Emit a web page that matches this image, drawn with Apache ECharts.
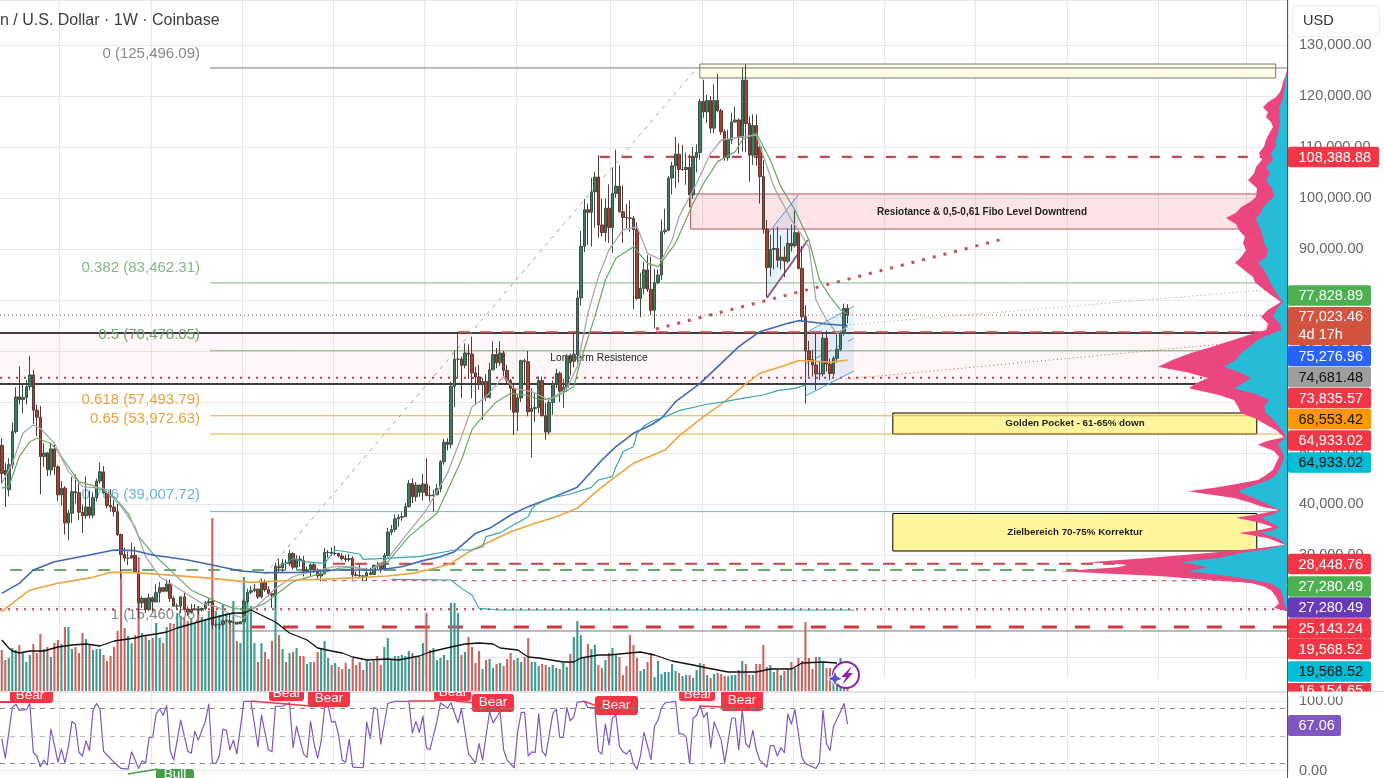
<!DOCTYPE html>
<html><head><meta charset="utf-8">
<style>html,body{margin:0;padding:0;background:#fff}#c{width:1384px;height:778px}</style>
<script src="https://cdn.jsdelivr.net/npm/echarts@6/dist/echarts.min.js"></script>
</head><body><div id="c"></div>
<script>
// weekly candles in thousands of USD: open, close, low, high
const weeklyOHLC=[
[51.5,46.0,44.0,52.9],[46.6,45.7,39.4,48.0],[42.8,47.7,41.5,49.0],[47.7,54.2,46.9,56.0],[54.2,61.0,53.8,62.9],[61.0,60.5,59.5,67.0],[60.5,60.9,57.8,63.7],[60.9,63.0,59.5,64.3],[63.0,65.3,62.3,69.0],[65.3,58.4,55.7,66.3],
[58.4,57.0,53.3,59.5],[57.0,49.3,41.9,59.2],[49.3,50.0,47.3,51.9],[50.0,46.7,45.5,50.2],[46.7,50.8,45.6,51.9],[50.8,47.3,45.7,52.1],[47.3,41.8,40.6,47.6],[41.8,43.1,39.7,44.5],[43.1,36.3,34.0,43.5],[36.3,38.2,32.9,38.9],
[38.2,42.4,36.3,45.3],[42.4,42.2,40.1,45.8],[42.2,38.4,36.8,44.7],[38.4,37.7,34.3,39.9],[37.7,39.4,37.1,45.4],[39.4,37.8,37.2,42.6],[37.8,41.3,37.2,42.3],[41.3,44.5,40.5,45.0],[44.5,46.3,44.0,48.2],[46.3,42.2,42.0,47.4],
[42.2,39.7,39.2,42.4],[39.7,39.4,38.5,42.9],[39.4,38.5,37.6,40.8],[38.5,34.0,33.7,40.0],[34.0,30.1,25.4,34.2],[30.1,29.4,28.7,31.4],[29.4,29.4,28.0,30.7],[29.4,29.9,29.3,32.4],[29.9,26.6,26.5,31.7],[26.6,20.6,17.6,26.9],
[20.6,21.5,19.6,21.9],[21.5,19.3,18.6,21.6],[19.3,21.6,19.0,22.4],[21.6,20.8,18.9,21.9],[20.8,22.6,20.7,24.3],[22.6,23.6,20.7,24.7],[23.6,22.9,22.7,23.7],[22.9,24.3,22.7,25.2],[24.3,21.5,20.8,25.2],[21.5,20.0,19.8,21.9],
[20.0,20.0,19.5,20.5],[20.0,21.8,18.6,21.8],[21.8,19.4,19.4,22.8],[19.4,18.8,18.1,19.9],[18.8,19.3,18.5,20.4],[19.3,19.4,19.1,20.4],[19.4,19.2,18.2,19.9],[19.2,19.5,18.9,19.7],[19.5,20.6,19.2,21.0],[20.6,20.9,20.0,21.4],
[20.9,16.3,15.5,21.4],[16.3,16.3,15.8,17.0],[16.3,16.4,15.5,16.8],[16.4,17.1,16.0,17.3],[17.1,17.1,16.7,17.4],[17.1,16.8,16.3,18.4],[16.8,16.8,16.4,17.0],[16.8,16.5,16.3,16.9],[16.5,16.9,16.5,17.0],[16.9,20.9,16.9,21.3],
[20.9,22.7,20.4,23.4],[22.7,23.0,22.3,23.9],[23.0,23.3,22.7,24.3],[23.3,21.8,21.4,23.4],[21.8,24.6,21.5,25.3],[24.6,23.2,22.8,25.2],[23.2,22.4,21.9,23.9],[22.4,22.1,19.6,22.6],[22.1,27.7,19.6,28.5],[27.7,27.5,26.6,29.2],
[27.5,28.4,26.5,29.2],[28.4,28.3,27.2,29.1],[28.3,30.3,27.8,31.0],[30.3,27.6,27.1,30.5],[27.6,29.2,27.2,30.0],[29.2,28.9,27.7,29.9],[28.9,26.9,25.8,29.8],[26.9,27.1,26.4,27.7],[27.1,28.1,25.9,28.4],[28.1,27.1,26.5,28.4],
[27.1,25.9,25.4,27.4],[25.9,26.3,24.8,26.8],[26.3,30.5,26.2,31.4],[30.5,30.5,29.5,31.0],[30.5,30.3,29.9,31.5],[30.3,30.3,29.9,31.8],[30.3,29.8,29.5,30.4],[29.8,29.3,28.9,30.3],[29.3,29.1,28.6,30.0],[29.1,29.3,28.7,30.2],
[29.3,26.1,25.2,29.7],[26.1,26.0,25.8,26.8],[26.0,25.9,25.4,28.1],[25.9,25.8,25.0,26.1],[25.8,26.5,24.9,27.5],[26.5,26.2,26.0,27.5],[26.2,28.0,26.1,28.1],[28.0,27.9,27.2,28.6],[27.9,27.1,26.5,28.0],[27.1,29.9,27.1,30.4],
[29.9,34.5,29.7,35.3],[34.5,35.0,33.9,35.9],[35.0,37.1,34.5,38.0],[37.1,37.4,35.5,38.0],[37.4,37.5,36.7,38.4],[37.5,39.5,37.5,40.2],[39.5,44.0,39.3,44.7],[44.0,41.4,40.2,45.0],[41.4,43.7,40.5,44.3],[43.7,42.3,41.4,43.8],
[42.3,43.9,40.7,45.9],[43.9,41.7,41.5,49.0],[41.7,41.6,40.5,43.6],[41.6,41.8,38.5,42.8],[41.8,43.0,41.8,43.9],[43.0,48.3,42.3,48.6],[48.3,52.1,47.7,52.8],[52.1,51.7,50.5,52.9],[51.7,63.1,50.9,64.0],[63.1,68.4,59.0,70.1],
[68.4,68.4,64.6,73.8],[68.4,67.2,60.8,68.9],[67.2,69.6,66.6,71.5],[69.6,69.4,64.5,71.3],[69.4,65.7,60.7,72.8],[65.7,64.9,59.6,66.9],[64.9,63.4,62.4,67.2],[63.4,64.0,56.5,64.7],[64.0,60.9,60.2,65.5],[60.9,66.3,60.7,67.7],
[66.3,69.3,66.3,71.9],[69.3,67.7,66.6,70.6],[67.7,69.6,67.1,71.9],[69.6,66.2,65.0,70.0],[66.2,64.2,63.4,67.3],[64.2,62.7,58.4,64.5],[62.7,58.0,53.5,63.8],[58.0,60.8,54.3,61.4],[60.8,68.1,60.0,68.3],[68.1,67.9,63.4,68.5],
[67.9,58.1,57.2,70.0],[58.1,58.7,49.1,62.7],[58.7,58.9,56.1,61.8],[58.9,64.2,57.8,65.0],[64.2,57.3,57.2,65.0],[57.3,54.1,52.6,59.8],[54.1,59.9,53.6,60.7],[59.9,63.6,57.5,64.2],[63.6,65.6,62.7,66.5],[65.6,62.1,60.0,66.0],
[62.1,62.9,58.9,64.5],[62.9,69.0,62.0,69.4],[69.0,68.0,65.2,69.5],[68.0,69.3,66.8,73.6],[69.3,80.4,66.8,81.9],[80.4,90.5,78.9,93.5],[90.5,97.7,89.4,99.8],[97.7,97.2,90.8,98.9],[97.2,101.2,90.5,104.0],[101.2,104.1,94.2,105.1],
[104.1,94.7,92.2,108.4],[94.7,93.2,92.4,99.9],[93.2,98.0,91.5,99.9],[98.0,94.2,91.2,102.7],[94.2,100.9,89.3,106.0],[100.9,102.3,100.0,109.5],[102.3,97.3,97.2,106.4],[97.3,96.2,91.2,102.5],[96.2,96.1,94.1,98.8],[96.1,96.0,93.4,99.5],
[96.0,93.8,78.2,96.5],[93.8,80.3,80.0,95.2],[80.3,82.3,76.6,85.3],[82.3,85.9,81.1,87.5],[85.9,82.1,81.6,88.8],[82.1,78.0,77.0,88.5],[78.0,83.4,74.4,86.1],[83.4,84.9,83.1,86.0],[84.9,93.4,83.9,95.8],[93.4,93.7,92.9,97.9],
[93.7,103.9,93.5,104.3],[103.9,106.3,100.7,107.1],[106.3,108.6,102.0,112.0],[108.6,105.6,103.0,110.7],[105.6,105.6,105.3,110.4],[105.6,106.0,102.6,108.9],[106.0,100.6,98.2,108.5],[100.6,108.0,99.8,110.0],[108.0,108.9,105.0,110.5],[108.9,118.9,107.5,119.5],
[118.9,116.9,115.7,123.2],[116.9,119.1,114.7,120.2],[119.1,113.7,112.7,120.0],[113.7,119.1,112.7,122.3],[119.1,117.1,116.8,124.3],[117.1,113.0,112.4,117.5],[113.0,107.9,107.3,113.5],[107.9,111.4,107.3,113.4],[111.4,114.9,110.6,116.7],[114.9,115.3,114.8,117.9],
[115.3,111.9,108.7,115.6],[111.9,123.1,109.1,125.5],[123.1,114.6,109.0,126.2],[114.6,108.4,103.2,116.0],[108.4,114.2,106.5,116.4],[114.2,108.4,106.3,116.4],[110.0,104.2,98.9,110.5],[104.2,93.9,93.0,107.5],[93.9,86.4,80.6,95.7],[86.4,89.9,84.6,92.8],
[89.9,90.1,86.0,94.0],[90.1,87.8,86.4,94.4],[87.8,88.4,86.0,92.6],[88.4,87.6,84.5,90.5],[87.6,91.1,87.2,94.0],[91.1,90.6,89.5,94.8],[90.65,93.2,90.3,97.5],[93.2,86.2,86.0,93.7],[86.2,76.7,75.8,90.6],[76.7,70.0,59.7,79.0],
[70.0,68.2,65.0,72.0],[68.3,67.25,65.0,70.2],[67.25,65.5,62.35,73.45],[65.5,65.6,64.3,68.0],[65.5,72.5,65.0,73.45],[72.5,67.45,66.0,74.0],[67.45,65.6,64.3,68.5],[65.6,68.56,65.0,69.0],[68.56,70.33,67.7,73.45],[70.33,73.45,70.0,74.0],
[73.45,78.36,73.0,79.3],[78.36,77.02,75.4,79.2]];

const weeklyVolume=[41,31,33,43,41,46,38,29,36,47,38,57,42,44,34,48,51,47,64,64,42,44,38,58,52,46,41,42,42,36,30,35,44,60,121,63,55,48,56,134,
58,56,51,53,68,53,48,64,68,67,78,75,74,70,72,68,85,74,72,80,173,80,76,86,78,70,90,50,48,114,90,85,48,29,48,39,32,50,126,56,
42,29,38,39,43,35,35,27,29,29,39,42,50,33,26,28,24,22,28,22,33,26,29,21,31,29,30,35,26,44,53,31,35,35,36,35,40,38,34,34,
48,78,41,43,31,33,36,31,88,88,78,36,39,54,44,28,40,22,31,32,23,27,28,25,32,38,31,33,29,34,53,29,29,25,27,26,24,26,23,22,
28,24,37,54,70,56,33,47,42,46,26,23,31,38,43,36,34,16,25,56,46,33,20,22,29,38,14,30,17,19,19,27,20,18,15,16,16,13,21,28,
27,16,13,17,18,17,15,15,16,16,21,30,27,16,16,27,27,46,24,26,19,21,16,20,21,29,23,33,30,69,33,22,34,34,29,23,23,11,14,33,10,6];

// moving averages as [week index, price] readings
const maFast=[[0,43100],[2,43400],[5,49300],[8,52200],[10,52900],[14,51900],[16,50300],[19,47300],[22,44400],[27,43400],[32,41440],[36,38170],[39,33600],[43,30300],[49,26400],[54,23100],[60,21200],[66,19540],[70,19220],[75,20520],[78,22150],[83,24770],[91,26400],[96,27400],[100,27580],[105,27060],[110,28700],[116,33600],[124,38170],[131,48630],[134,54640],[137,57120],[141,60070],[145,61700],[149,61370],[154,60390],[158,61040],[163,63000],[165,68230],[169,76730],[172,83920],[175,88170],[180,90460],[184,87190],[187,86540],[192,91110],[197,98950],[200,102880],[204,107130],[209,109080],[211,111370],[215,112680],[219,107450],[222,102220],[226,97650],[230,91760],[233,83920],[236,80650],[239,78040],[241,77250]];
const maSlow=[[0,44050],[3,47950],[6,53850],[9,55490],[11,54840],[15,51900],[19,46340],[23,43400],[29,43070],[34,39480],[38,35550],[41,29670],[45,25750],[51,23140],[57,20520],[61,19870],[66,18240],[69,17580],[72,19540],[78,23460],[83,25750],[88,26730],[95,27710],[100,27710],[105,27060],[110,29350],[116,34570],[121,38820],[127,46010],[131,53200],[134,59080],[138,61040],[143,64970],[146,62680],[151,62030],[156,60390],[161,62680],[164,66930],[167,77390],[170,84570],[173,89800],[177,93730],[181,94380],[184,89150],[188,87840],[191,91760],[193,96340],[198,102880],[202,108760],[205,111370],[211,112030],[215,112350],[220,102220],[225,95690],[230,90460],[232,79990],[235,76080],[238,73460],[241,74770]];
const maBlue=[[0,22480],[5,24440],[9,27060],[15,28690],[25,30000],[32,30980],[38,30850],[43,30000],[53,29020],[60,28040],[68,26860],[75,26530],[85,26600],[95,27060],[107,27060],[114,27710],[120,28900],[125,29670],[129,30650],[135,34250],[139,35230],[145,37840],[150,39480],[157,41300],[164,43270],[171,48630],[175,51240],[180,53860],[185,55490],[188,56800],[192,60060],[199,63660],[205,67580],[210,70850],[216,73790],[224,75420],[227,75950],[230,75750],[235,75290],[241,74960]];
const maOrange=[[0,18890],[3,20520],[8,23140],[16,24450],[26,25620],[31,26600],[38,26540],[45,26210],[60,25420],[71,24640],[85,25100],[97,25420],[110,25880],[117,26400],[125,27710],[128,28360],[134,30980],[139,32610],[145,34570],[152,36210],[158,37520],[164,39150],[170,42750],[173,44380],[180,47970],[189,50590],[193,53350],[200,57120],[206,60060],[211,63000],[216,65620],[222,66930],[227,68100],[230,68100],[236,67780],[241,68230]];
const maCyan=[[79,28040],[81,28360],[83,29340],[86,28690],[92,28360],[95,30980],[102,30190],[103,29150],[109,29340],[119,29670],[129,30980],[134,30980],[137,31630],[138,33590],[142,34380],[145,35550],[150,37520],[151,38950],[152,39800],[156,41110],[162,41960],[168,43270],[170,44700],[174,45360],[175,47320],[176,48630],[177,50260],[180,51240],[181,53860],[183,55300],[185,56140],[189,57120],[193,58300],[200,59410],[206,60060],[211,60720],[217,61370],[221,62220],[226,62680],[229,63330]];
const stepLower=[[111,25230],[128,25100],[131,23460],[134,22150],[136,19540],[142,19210],[243,19210]];
const volumeMA=[[0,51],[2,43],[3,40],[5,38],[8,40],[12,40],[16,44],[20,46],[24,47],[28,45],[32,50],[34,51],[38,53],[40,55],[44,57],[47,59],[50,63],[55,68],[60,73],[66,78],[69,78],[71,81],[78,69],[82,58],[87,51],[90,43],[94,40],[97,38],[100,34],[104,31],[110,32],[113,31],[119,35],[122,39],[128,44],[132,47],[136,48],[140,47],[142,43],[147,41],[150,34],[153,33],[160,29],[163,29],[165,33],[170,36],[173,36],[179,38],[182,39],[186,36],[191,30],[197,26],[201,23],[207,19],[215,19],[219,22],[225,22],[228,28],[234,29],[238,28]];
const stochRSI=[[0,46],[1,18],[3,91],[4,96],[5,87],[7,88],[8,97],[9,26],[10,21],[11,5.5],[12,15],[13,8],[14,60],[15,37],[16,12],[17,31],[18,11],[19,35],[20,71],[21,67],[22,26],[23,21],[24,43],[25,29],[26,87],[27,97],[28,89],[29,28],[31,17],[32,12],[34,3],[36,2],[37,27],[39,3],[40,14],[41,11],[42,48],[43,48],[44,82],[45,89],[46,80],[47,94],[48,28],[49,15],[51,73],[53,28],[54,25],[55,57],[56,44],[58,71],[59,96],[60,11],[61,10],[62,21],[63,60],[64,58],[65,30],[66,44],[67,24],[69,100],[71,100],[73,34],[74,80],[76,30],[77,27],[78,93],[80,93],[82,98],[83,33],[84,64],[86,24],[87,19],[88,71],[89,39],[90,18],[91,42],[92,91],[93,93],[94,70],[95,71],[96,51],[97,15],[98,12],[99,45],[100,5],[103,4],[104,70],[105,46],[106,91],[107,89],[108,38],[110,97],[112,100],[116,100],[117,54],[118,71],[119,55],[120,79],[121,33],[122,30],[124,71],[125,98],[127,90],[128,98],[130,69],[131,89],[133,24],[135,11],[136,39],[137,15],[139,85],[140,69],[142,85],[143,30],[144,15],[146,4],[147,55],[148,84],[149,84],[150,21],[151,27],[152,26],[153,82],[154,28],[155,21],[157,82],[158,89],[159,48],[160,48],[161,91],[162,72],[163,78],[164,99],[166,100],[167,91],[169,91],[170,28],[171,24],[172,67],[173,37],[174,76],[175,80],[176,35],[177,27],[178,24],[179,30],[180,10],[181,2],[182,21],[183,55],[185,16],[186,64],[187,73],[188,91],[189,98],[192,100],[193,53],[194,53],[195,49],[196,10],[197,76],[198,80],[199,94],[200,77],[201,84],[202,33],[203,70],[205,44],[206,11],[208,76],[209,76],[210,30],[211,87],[212,39],[213,33],[214,58],[215,30],[216,15],[218,5],[219,36],[220,36],[221,21],[222,33],[223,26],[224,82],[225,67],[226,88],[228,19],[229,10],[232,3],[233,12],[234,87],[235,39],[236,29],[237,64],[239,85],[240,97],[241,67.06]];

// visible-range volume profile: price level, up volume, total volume
const profilePrice=[125100,124400,123700,122800,121800,120800,119800,118800,117800,116800,115900,114900,113900,112600,111400,110100,108800,107500,106100,104800,103500,101900,100200,99200,98200,97100,96100,94900,93700,92400,91200,89800,88400,87300,85900,84500,83500,82500,81000,79600,78100,76700,75400,74100,73100,72200,70900,69600,68300,66900,65800,64700,63700,62700,61400,60400,59100,57800,56800,55900,54500,53100,52300,51600,50400,49200,48000,46700,45700,44700,43300,42500,41200,40300,39400,38800,38000,37300,36400,35500,34900,34300,33300,32000,31200,30400,29400,28600,28100,27600,26800,25900,25200,24500,23800,23100,21800,20600,19600,19000];
const profileUp=[1,1,2,3,3,4,5,6,9,8,9,8,9,10,12,12,17,15,22,18,22,16,14,20,25,27,32,30,27,25,24,20,22,30,24,20,18,15,10,5,12,15,8,7,20,30,38,47,52,64,48,37,45,54,30,19,24,22,16,12,6,2,7,10,6,4,6,9,12,19,40,50,34,24,15,7,15,27,18,9,14,27,10,2,20,47,70,107,92,80,100,60,38,19,12,7,5,4,2,1];
const profileTotal=[1,2,3,5,6,8,12,20,25,20,22,17,15,19,22,24,29,26,32,34,40,31,32,38,47,52,62,52,49,43,45,42,47,53,44,35,33,27,17,7,20,27,20,22,40,54,75,97,115,130,100,80,92,99,70,54,50,47,33,25,12,4,22,30,14,9,12,15,22,30,70,100,54,38,25,9,30,52,30,15,28,49,20,3,35,80,140,200,160,170,228,130,85,37,24,17,12,9,14,2];

// drawing levels: bar position 0, price 0, bar position 1, price 1
const zoneLevels=[[-2,73530,361.9,63530],[198.9,126270,363,123530],[196.3,100785,362.7,93920],[253.9,57840,357.6,53725],[253.9,38135,357.6,30785]];
const zoneLook=[['rgba(242,54,69,0.045)','#000',1.3],['#fffde7','#777',1],['rgba(242,54,69,0.13)','#b5525a',1],['#fff59d','#000',1],['#fff59d','#000',1]];
const flagPolygons=[[[218,80390],[218,92750],[226.9,100590],[226.9,91760]],[[229,61180],[229,73530],[242.8,78820],[242.8,66080]]];
const segmentLevels=[[59.3,125496,366.5,125496],[59.3,83350,366.5,83350],[59.3,70050,366.5,70050],[59.3,57300,366.5,57300],[59.3,53730,366.5,53730],[59.3,38500,366.5,38500],[170.4,108050,366.5,108050],[130,73700,361.9,73700],[-0.5,64760,366.5,64760],[-0.5,19340,366.5,19340],[186.4,74300,286.4,92160],[-0.5,77023,366.5,77023],[2.4,27060,355.6,27060],[94.4,28300,366.5,28300],[91.2,24960,355.6,24960],[70.7,15880,366.5,15880],[65.3,15100,366.5,15100],[61.6,15460,198.1,125496],[240.5,75100,366.5,82350],[240.5,64510,366.5,72560],[218,92750,226.9,100590],[218,80390,229.7,91760],[229,73530,242.8,78820],[229,61180,242.8,66080],[229,67500,242.8,72500]];
const segmentLook=[['#787878',1],['#81b784',1],['#7fb27f',1],['#e3ab45',1.2],['#e3ab45',1.2],['#6fb3c4',1],['#c8444e',2.2,[10,12]],['#c8444e',2,[12,10]],['#c0394b',2,[2,6]],['#c0394b',2,[2,6]],['#c8505a',3,[3,8]],['#8d5a4d',1,[1,3]],['#6aa96f',2,[12,10]],['#c8444e',2,[12,10]],['#b5525a',1,[5,5]],['#d2383f',3,[15,18]],['#777',1],['#a5a5a5',1,[4,5]],['#7fb77f',1,[1,3]],['#c8505a',1,[1,3]],['#5b8fd9',1],['#8a5a8f',2],['#4a9fdc',1],['#4a9fdc',1],['#4a9fdc',1,[6,6]]];

const gridBars=new Set([17,43,69,95,121,147,174,200,226,252,278,304,330,355]);
const weeks=[];const t0=Date.UTC(2021,8,20);
for(let i=0;i<367;i++)weeks.push(new Date(t0+i*604800000).toISOString().slice(0,10));
const GRID='#e8e8e8',FONT='"Liberation Sans",Arial,sans-serif';
const catAxis=g=>({type:'category',gridIndex:g,data:weeks,boundaryGap:true,axisLine:{show:false},axisTick:{show:false},axisLabel:{show:false},
 splitLine:{show:true,interval:i=>gridBars.has(i),lineStyle:{color:GRID,width:1}}});
const candleData=weeklyOHLC.map(r=>r.map(v=>v*1000));
const lineS=(name,data,color,width,xi,yi,z)=>({name,type:'line',data,xAxisIndex:xi,yAxisIndex:yi,showSymbol:false,symbol:'none',animation:false,z:z||4,silent:true,lineStyle:{color,width,join:'round'}});

const option={animation:false,backgroundColor:'#fff',
 grid:[{left:0,right:96,top:0,bottom:121},{left:0,right:96,top:518,bottom:87},{left:0,right:96,top:692,bottom:2.3}],
 xAxis:[catAxis(0),catAxis(1),catAxis(2),
  {type:'value',gridIndex:0,show:false,min:-0.5,max:366.5},
  {type:'value',gridIndex:0,show:false,min:0,max:1288,inverse:true}],
 yAxis:[
  {type:'value',gridIndex:0,position:'right',min:10000,max:138823,interval:10000,axisLine:{show:false},axisTick:{show:false},splitLine:{lineStyle:{color:GRID}},
   axisLabel:{margin:11,color:'#666',fontFamily:FONT,fontSize:14.5,formatter:v=>(v<=10000||v>=138000)?'':v.toLocaleString('en-US',{minimumFractionDigits:2})}},
  {type:'value',gridIndex:1,show:false,min:0,max:173},
  {type:'value',gridIndex:2,position:'right',min:0,max:113.6,interval:100,axisLine:{show:false},axisTick:{show:false},splitLine:{lineStyle:{color:GRID}},
   axisLabel:{margin:11,color:'#666',fontFamily:FONT,fontSize:14.5,showMaxLabel:false,formatter:v=>(v===100||v===0)?v.toFixed(2):''}}],
 series:[
  {name:'zones',type:'custom',xAxisIndex:3,yAxisIndex:0,z:1,silent:true,animation:false,clip:true,encode:{x:[0,2],y:[1,3]},data:zoneLevels,
   renderItem:(p,api)=>{const a=api.coord([api.value(0),api.value(1)]),b=api.coord([api.value(2),api.value(3)]);const s=zoneLook[p.dataIndex];
    return {type:'rect',shape:{x:a[0],y:a[1],width:b[0]-a[0],height:b[1]-a[1]},style:{fill:s[0],stroke:s[1],lineWidth:s[2]}};}},
  {name:'flags',type:'custom',xAxisIndex:3,yAxisIndex:0,z:1,silent:true,animation:false,data:[[0],[1]],
   renderItem:(p,api)=>({type:'polygon',shape:{points:flagPolygons[p.dataIndex].map(q=>api.coord(q))},style:{fill:'rgba(66,150,245,0.13)',stroke:null}})},
  {name:'levels',type:'custom',xAxisIndex:3,yAxisIndex:0,z:2.2,silent:true,animation:false,clip:true,encode:{x:[0,2],y:[1,3]},data:segmentLevels,
   renderItem:(p,api)=>{const a=api.coord([api.value(0),api.value(1)]),b=api.coord([api.value(2),api.value(3)]);const s=segmentLook[p.dataIndex];
    return {type:'line',shape:{x1:a[0],y1:a[1],x2:b[0],y2:b[1]},style:{stroke:s[0],lineWidth:s[1],lineDash:s[2]||null,fill:null}};}},
  {name:'Volume',type:'bar',xAxisIndex:1,yAxisIndex:1,z:2.8,silent:true,animation:false,barWidth:2.1,
   data:weeklyVolume.map((v,i)=>({value:v,itemStyle:{color:weeklyOHLC[i][1]>=weeklyOHLC[i][0]?'#3c9a91':'#c9665f'}}))},
  {name:'BTCUSD',type:'candlestick',xAxisIndex:0,yAxisIndex:0,z:3,silent:true,animation:false,barWidth:3,data:candleData,
   itemStyle:{color:'#37805e',color0:'#ad3f2a',borderColor:'#3d4f46',borderColor0:'#5a3a34',borderWidth:1}},
  lineS('MA fast',maFast,'#64a86a',1.2,0,0),
  lineS('MA slow',maSlow,'#a8a8a8',1.3,0,0),
  lineS('MA blue',maBlue,'#3f67b8',1.6,0,0),
  lineS('MA orange',maOrange,'#e9a53f',1.6,0,0),
  lineS('MA cyan',maCyan,'#3aa3ad',1.2,0,0),
  lineS('Step lower',stepLower,'#3aa3ad',1.1,0,0),
  lineS('Volume MA',volumeMA,'#111',1.3,1,1),
  lineS('Stoch RSI',stochRSI,'#7e57c2',1.2,2,2,1.8),
  Object.assign(lineS('RSI band',[],'#888',1,2,2,1.7),{markLine:{silent:true,symbol:'none',label:{show:false},data:[
    {yAxis:90,lineStyle:{color:'#888',type:[5,5],width:1}},{yAxis:50,lineStyle:{color:'#bbb',type:[5,5],width:1}},{yAxis:10,lineStyle:{color:'#888',type:[5,5],width:1}}]}}),
  {name:'profile',type:'custom',xAxisIndex:4,yAxisIndex:0,z:5,silent:true,animation:false,data:[[0]],
   renderItem:(p,api)=>{
    const edge=v=>profilePrice.map((q,i)=>api.coord([v[i],q]));
    const base=[api.coord([0,profilePrice[profilePrice.length-1]]),api.coord([0,profilePrice[0]])];
    return {type:'group',children:[
      {type:'polygon',shape:{points:edge(profileTotal).concat(base)},style:{fill:'#ea4680'}},
      {type:'polygon',shape:{points:edge(profileUp).concat(base)},style:{fill:'#26bcd7'}}]};}}
 ],
 graphic:[]};

const G=option.graphic;
const txt=(text,x,y,fill,size,align,z,weight)=>G.push({type:'text',z:z,silent:true,style:{text,x,y,fill,font:(weight||'normal')+' '+size+'px '+FONT,textAlign:align||'left',textVerticalAlign:'middle'}});
const rect=(x,y,w,h,fill,z,r,stroke)=>G.push({type:'rect',z:z,silent:true,shape:{x,y,width:w,height:h,r:r||0},style:{fill,stroke:stroke||null}});
const seg=(x1,y1,x2,y2,stroke,w,z)=>G.push({type:'line',z:z,silent:true,shape:{x1,y1,x2,y2},style:{stroke,lineWidth:w}});

// header and fib captions
txt('n / U.S. Dollar · 1W · Coinbase',0,21,'#3d3d3d',16,'left',12);
[['0 (125,496.09)',54,'#888'],['0.382 (83,462.31)',268,'#81b784'],['0.5 (70,478.05)',335,'#6ba56f'],['0.618 (57,493.79)',400,'#e8a33d'],['0.65 (53,972.63)',419,'#e8a33d'],['0.786 (39,007.72)',495,'#6db2dd'],['1 (15,460.06)',615,'#888']]
 .forEach(f=>txt(f[0],200,f[1],f[2],15,'right',2));
txt('Longterm Resistence',599,358.5,'#222',10.3,'center',2,'normal');
txt('Resiotance & 0,5-0,61 Fibo Level Downtrend',982,212,'#222',10,'center',2,'bold');
txt('Golden Pocket - 61-65% down',1075,423.5,'#222',9.8,'center',2,'bold');
txt('Zielbereich 70-75% Korrektur',1075,532,'#222',9.8,'center',2,'bold');

// signal labels, clipped by the volume pane
[[10,690,43,13,30,695],[269,690,35,11,287,693],[308,690,42,17,329,698],[434,690,37,11,453,692],[472,694,42,18,493,702.5],[595,696,43,19,616,705.5],[679,690,36,11,698,694],[721,690,42,21,742,700]]
 .forEach(b=>{rect(b[0],b[1],b[2],b[3],'#f23645',2,3);txt('Bear',b[4],b[5],'#fff',13.5,'center',2);});
seg(0,702,12,702,'#f23645',2,2);seg(251,701,310,706,'#f23645',1.5,2);seg(409,701,436,701,'#f23645',1.5,2);seg(455,701,475,703,'#f23645',1.5,2);seg(583,701,597,706,'#f23645',1.5,2);seg(700,706,723,707,'#f23645',1.5,2);
rect(156,769,38,14,'#43a047',2,3);txt('Bull',175,774,'#fff',13.5,'center',2);seg(128,774,158,769,'#43a047',1.5,2);
rect(0,678,1288,13.5,'#fff',2.5);

// price tags on the scale
seg(1287.5,0,1287.5,778,'#555',1,9);seg(0,691.5,1384,691.5,'#e0e0e0',1,8);
[['108,388.88',157,'#f23645','#fff',1379],['77,828.89',295.5,'#4caf50','#fff'],['75,276.96',356,'#2962ff','#fff'],['74,681.48',377,'#9e9e9e','#111'],['73,835.57',398,'#f23645','#fff'],['68,553.42',419,'#ff9800','#111'],['64,933.02',440.5,'#f23645','#fff'],['64,933.02',462.5,'#00bcd4','#111'],['28,448.76',564,'#f23645','#fff'],['27,280.49',586.5,'#4caf50','#fff'],['27,280.49',607.5,'#673ab7','#fff'],['25,143.24',628.5,'#f23645','#fff'],['19,568.52',649,'#f23645','#fff'],['19,568.52',671.5,'#00bcd4','#111']]
 .forEach(b=>{const r=b[4]||1371;rect(1288,b[1]-10.2,r-1288,20.4,b[2],10,2);txt(b[0],1298.5,b[1]+0.5,b[3],14.5,'left',10);});
rect(1288,683,83,8.5,'#f23645',10);txt('16,154.65',1298.5,690.5,'#fff',14.5,'left',10);
rect(1288,307,83,38,'#d2533f',10,2);txt('77,023.46',1298.5,317,'#fff',14.5,'left',10);txt('4d 17h',1298.5,335,'#fff',14.5,'left',10);
rect(1288,692,96,4.5,'#fff',11);
rect(1288,715,53,21,'#7e57c2',10,2);txt('67.06',1298.5,726,'#fff',14.5,'left',10);
rect(1292.5,5.5,87,31,'#fff',12,6,'#eee');txt('USD',1303,21,'#333',14.5,'left',12);

// assistant badge
G.push({type:'circle',z:8,silent:true,shape:{cx:846,cy:675,r:13},style:{fill:'#fff',stroke:'#8e24aa',lineWidth:2}});
G.push({type:'polygon',z:8,silent:true,shape:{points:[[852,666],[841,677],[846,677],[842,685],[853,673],[848,673]]},style:{fill:'#8e24aa'}});
G.push({type:'polygon',z:8,silent:true,shape:{points:[[835,670],[837,676],[843,679],[837,681],[835,687],[833,681],[827,679],[833,676]]},style:{fill:'#5c4ee5',stroke:'#fff',lineWidth:1}});

const chart=echarts.init(document.getElementById('c'),null,{renderer:'canvas'});
chart.setOption(option);
</script></body></html>
